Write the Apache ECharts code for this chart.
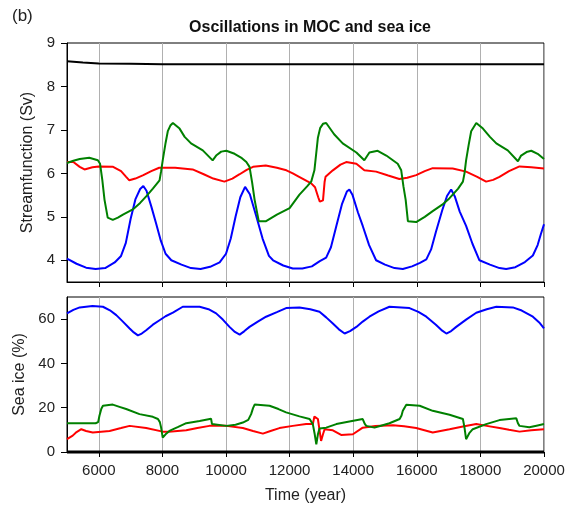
<!DOCTYPE html>
<html>
<head>
<meta charset="utf-8">
<script src="https://cdn.jsdelivr.net/npm/echarts@6/dist/echarts.min.js"></script>
<style>
  html, body { margin: 0; padding: 0; background: #fff; }
  #chart { width: 578px; height: 510px; }
</style>
</head>
<body>
<div id="chart"></div>
<script>
// x ticks (year) and y ticks for both panels
const yearTicks = [6000, 8000, 10000, 12000, 14000, 16000, 18000, 20000]
const mocTicks = [4, 5, 6, 7, 8, 9]
const iceTicks = [0, 20, 40, 60]

// top panel: streamfunction (Sv), [year, value]
const mocBlack = [[5000, 8.58], [5500, 8.55], [6000, 8.53], [7000, 8.52], [8000, 8.51], [12000, 8.51], [20000, 8.51]]
const mocRed = [
  [5000, 6.26], [5200, 6.26], [5400, 6.15], [5550, 6.09], [5800, 6.14], [6000, 6.16], [6450, 6.15], [6700, 6.05],
  [6860, 5.92], [6960, 5.84], [7150, 5.88], [7400, 5.96], [7650, 6.05], [7900, 6.13], [8400, 6.13], [8950, 6.09],
  [9300, 5.98], [9600, 5.88], [9950, 5.81], [10200, 5.88], [10430, 5.98], [10650, 6.08], [10850, 6.15], [11250, 6.18],
  [11600, 6.13], [11900, 6.07], [12100, 6.0], [12300, 5.92], [12550, 5.82], [12680, 5.77], [12800, 5.68], [12900, 5.45],
  [12950, 5.35], [13050, 5.38], [13100, 5.8], [13130, 5.92], [13360, 6.07], [13600, 6.2], [13780, 6.26], [14100, 6.22],
  [14350, 6.07], [14720, 6.04], [15100, 5.95], [15450, 5.87], [15700, 5.9], [15980, 5.96], [16250, 6.05], [16500, 6.12],
  [17130, 6.11], [17550, 6.04], [17900, 5.92], [18180, 5.81], [18400, 5.85], [18600, 5.92], [18900, 6.05], [19230, 6.16],
  [19600, 6.14], [20000, 6.11]
]
const mocGreen = [
  [5000, 6.24], [5200, 6.29], [5400, 6.33], [5700, 6.36], [5970, 6.3], [6040, 6.22], [6110, 5.85], [6180, 5.39],
  [6280, 4.98], [6440, 4.93], [6600, 4.98], [6760, 5.05], [7070, 5.17], [7300, 5.32], [7490, 5.47], [7700, 5.65],
  [7910, 5.84], [7960, 6.05], [8010, 6.3], [8100, 6.7], [8170, 6.97], [8250, 7.1], [8330, 7.16], [8540, 7.03],
  [8700, 6.84], [8900, 6.69], [9270, 6.53], [9580, 6.3], [9690, 6.41], [9850, 6.5], [10010, 6.52], [10270, 6.45],
  [10500, 6.35], [10640, 6.26], [10740, 6.15], [10820, 5.8], [10900, 5.39], [11030, 4.9], [11260, 4.9], [11600, 5.05],
  [12000, 5.2], [12310, 5.51], [12550, 5.7], [12680, 5.81], [12780, 6.07], [12890, 6.82], [12960, 7.04], [13050, 7.14],
  [13150, 7.16], [13400, 6.9], [13670, 6.69], [14100, 6.48], [14350, 6.3], [14510, 6.48], [14770, 6.52], [15040, 6.41],
  [15400, 6.22], [15510, 6.07], [15580, 5.7], [15650, 5.39], [15720, 4.9], [15980, 4.88], [16250, 5.0], [16500, 5.13],
  [16800, 5.28], [17030, 5.43], [17300, 5.65], [17450, 5.81], [17500, 6.0], [17550, 6.3], [17630, 6.65], [17710, 6.97],
  [17870, 7.16], [18080, 7.03], [18300, 6.84], [18500, 6.69], [18860, 6.53], [19180, 6.28], [19280, 6.41], [19450, 6.49],
  [19600, 6.52], [19800, 6.45], [20000, 6.33]
]
const mocBlue = [
  [5000, 4.04], [5300, 3.92], [5600, 3.83], [5900, 3.8], [6200, 3.82], [6500, 3.95], [6700, 4.1], [6850, 4.4],
  [7000, 4.95], [7150, 5.4], [7300, 5.64], [7400, 5.71], [7500, 5.6], [7650, 5.24], [7800, 4.85], [7950, 4.45],
  [8100, 4.15], [8280, 4.0], [8600, 3.9], [8900, 3.82], [9200, 3.8], [9500, 3.85], [9800, 3.95], [10000, 4.15],
  [10150, 4.5], [10300, 5.0], [10450, 5.45], [10600, 5.69], [10650, 5.71], [10750, 5.52], [10950, 5.02], [11150, 4.5],
  [11350, 4.1], [11480, 4.0], [11800, 3.88], [12100, 3.81], [12400, 3.81], [12700, 3.86], [12950, 3.98], [13150, 4.06],
  [13300, 4.3], [13470, 4.79], [13650, 5.3], [13800, 5.58], [13880, 5.63], [13980, 5.5], [14150, 5.1], [14300, 4.79],
  [14500, 4.35], [14720, 4.0], [15000, 3.9], [15300, 3.82], [15560, 3.8], [15850, 3.86], [16100, 3.94], [16300, 4.02],
  [16450, 4.25], [16600, 4.65], [16800, 5.15], [16950, 5.48], [17080, 5.63], [17200, 5.46], [17350, 5.12], [17550, 4.79],
  [17750, 4.38], [17970, 4.0], [18300, 3.9], [18600, 3.82], [18810, 3.8], [19100, 3.84], [19400, 3.96], [19650, 4.11],
  [19800, 4.35], [19900, 4.6], [20000, 4.83]
]

// bottom panel: sea ice (%), [year, value]
const iceBlack = [[5000, 0], [20000, 0]]
const iceBlue = [
  [5000, 62.6], [5200, 64.2], [5400, 65.3], [5800, 65.9], [6130, 65.6], [6350, 64.0], [6550, 61.8], [6750, 59.0],
  [6970, 55.8], [7100, 54.0], [7230, 52.7], [7350, 53.5], [7490, 55.0], [7700, 57.5], [7910, 59.5], [8100, 61.3],
  [8330, 62.9], [8640, 65.6], [9170, 65.6], [9450, 64.5], [9690, 62.6], [9900, 59.8], [10110, 56.5], [10280, 54.2],
  [10430, 53.0], [10580, 54.6], [10740, 56.5], [11000, 58.9], [11260, 61.1], [11600, 63.2], [11890, 65.0], [12310, 65.3],
  [12650, 64.5], [12940, 63.3], [13150, 60.8], [13360, 58.0], [13550, 55.4], [13730, 53.5], [13900, 54.6], [14100, 56.5],
  [14300, 58.9], [14510, 61.1], [14800, 63.5], [15140, 65.6], [15770, 65.0], [16050, 63.3], [16300, 61.1], [16600, 57.5],
  [16800, 54.8], [16930, 53.5], [17080, 54.6], [17240, 56.5], [17550, 59.8], [17870, 62.9], [18200, 64.5], [18500, 65.6],
  [19020, 65.3], [19300, 63.9], [19650, 61.1], [19850, 58.5], [20000, 55.8]
]
const iceGreen = [
  [5000, 13.0], [5900, 13.0], [5980, 13.5], [6020, 16.4], [6080, 19.5], [6130, 20.9], [6440, 21.4], [6650, 20.4],
  [6860, 19.4], [7280, 17.1], [7700, 15.9], [7860, 14.9], [7920, 13.5], [7960, 11.0], [8010, 6.5], [8100, 8.0],
  [8220, 9.5], [8480, 11.2], [8750, 13.0], [9170, 14.0], [9530, 15.0], [9560, 12.6], [9590, 12.1], [10010, 11.8],
  [10300, 12.3], [10530, 13.3], [10700, 14.5], [10790, 17.1], [10850, 19.8], [10900, 21.4], [11370, 20.9], [11650, 19.4],
  [11890, 17.9], [12310, 16.1], [12630, 14.9], [12730, 12.6], [12790, 8.0], [12840, 3.5], [12890, 8.0], [12940, 10.6],
  [13150, 11.0], [13470, 12.6], [13880, 13.8], [14300, 14.9], [14360, 12.8], [14410, 11.8], [14670, 11.0], [14900, 12.0],
  [15140, 13.0], [15460, 14.9], [15520, 16.5], [15560, 18.6], [15670, 21.3], [16090, 20.9], [16500, 18.6], [17030, 16.8],
  [17450, 14.9], [17500, 11.0], [17550, 5.8], [17650, 8.5], [17760, 10.3], [18180, 12.6], [18600, 14.4], [19130, 15.2],
  [19180, 13.0], [19230, 11.8], [19540, 11.2], [19800, 12.0], [20000, 12.6]
]
const iceRed = [
  [5000, 5.8], [5180, 7.4], [5300, 9.0], [5450, 10.3], [5600, 9.5], [5810, 8.8], [6340, 9.5], [6700, 10.8],
  [6970, 11.8], [7490, 10.8], [8010, 9.2], [8200, 9.2], [8750, 9.8], [9100, 10.8], [9480, 11.8], [10010, 11.8],
  [10530, 10.8], [10850, 9.5], [11160, 8.3], [11400, 9.5], [11680, 10.8], [12100, 11.8], [12520, 12.6], [12730, 12.6],
  [12780, 16.0], [12830, 16.4], [12890, 14.9], [12940, 10.0], [12990, 5.0], [13050, 8.0], [13100, 10.3], [13360, 9.8],
  [13620, 7.7], [13990, 8.0], [14300, 11.0], [14700, 11.7], [15250, 12.1], [15600, 11.6], [15980, 10.8], [16500, 8.8],
  [17030, 10.3], [17450, 11.5], [17870, 12.6], [18200, 11.8], [18600, 10.8], [18900, 10.0], [19230, 9.2], [19600, 9.8],
  [20000, 10.3]
]

const font = 'Liberation Sans, Arial, sans-serif'

function xAxisFor(gridIndex, showLabels) {
  return {
    type: 'value',
    gridIndex: gridIndex,
    min: 5000,
    max: 20000,
    name: showLabels ? 'Time (year)' : '',
    nameLocation: 'middle',
    nameGap: 36,
    nameTextStyle: { color: '#222', fontSize: 16, fontFamily: font },
    axisLine: { show: true, onZero: false, lineStyle: { color: '#000', width: 1 } },
    axisTick: { show: true, length: 5, customValues: yearTicks, lineStyle: { color: '#000' } },
    axisLabel: {
      show: showLabels,
      customValues: yearTicks,
      formatter: (v) => String(v), // no thousands separator
      color: '#222', fontSize: 15, fontFamily: font, margin: 11
    },
    splitLine: { show: true, lineStyle: { color: '#b0b0b0', width: 1 } }
  }
}

function yAxisFor(gridIndex, min, max, ticks, name, gap) {
  return {
    type: 'value',
    gridIndex: gridIndex,
    min: min,
    max: max,
    name: name,
    nameLocation: 'middle',
    nameGap: gap,
    nameTextStyle: { color: '#222', fontSize: 16, fontFamily: font },
    axisLine: { show: true, lineStyle: { color: '#000', width: 1 } },
    axisTick: { show: true, length: 6, customValues: ticks, lineStyle: { color: '#000' } },
    axisLabel: { customValues: ticks, color: '#222', fontSize: 15, fontFamily: font, margin: 12 },
    splitLine: { show: false }
  }
}

function line(data, color, xi, width) {
  return {
    type: 'line',
    xAxisIndex: xi,
    yAxisIndex: xi,
    data: data,
    showSymbol: false,
    symbol: 'none',
    clip: false,
    lineStyle: { color: color, width: width || 2 },
    itemStyle: { color: color },
    animation: false
  }
}

const chart = echarts.init(document.getElementById('chart'))
chart.setOption({
  backgroundColor: '#fff',
  animation: false,
  title: [
    {
      text: 'Oscillations in MOC and sea ice',
      left: 305, top: 15, textAlign: 'center',
      textStyle: { fontSize: 16, fontWeight: 'bold', color: '#111', fontFamily: font }
    },
    {
      text: '(b)',
      left: 7, top: 3,
      textStyle: { fontSize: 17, fontWeight: 'normal', color: '#222', fontFamily: font }
    }
  ],
  grid: [
    { left: 67, top: 43, width: 477, height: 239, show: true, borderColor: '#000', borderWidth: 1, containLabel: false, outerBoundsMode: 'none' },
    { left: 67, top: 297, width: 477, height: 155, show: true, borderColor: '#000', borderWidth: 1, containLabel: false, outerBoundsMode: 'none' }
  ],
  xAxis: [xAxisFor(0, false), xAxisFor(1, true)],
  yAxis: [
    yAxisFor(0, 3.5, 9, mocTicks, 'Streamfunction (Sv)', 31),
    yAxisFor(1, 0, 70, iceTicks, 'Sea ice (%)', 39)
  ],
  series: [
    line(mocBlack, '#000', 0),
    line(mocBlue, '#0000ff', 0),
    line(mocRed, '#ff0000', 0),
    line(mocGreen, '#008000', 0),
    line(iceBlack, '#000', 1, 3),
    line(iceBlue, '#0000ff', 1),
    line(iceRed, '#ff0000', 1),
    line(iceGreen, '#008000', 1)
  ]
})
</script>
</body>
</html>
